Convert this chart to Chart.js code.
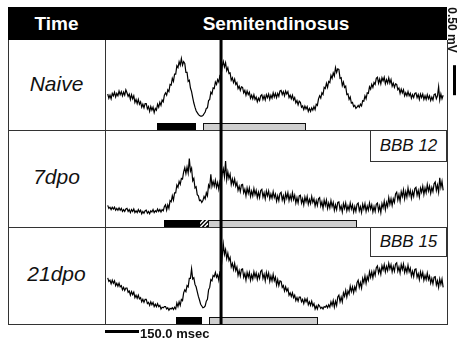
<!DOCTYPE html>
<html><head><meta charset="utf-8">
<script src="https://cdn.jsdelivr.net/npm/chart.js@4"></script>
<style>
body{margin:0;background:#fff;}
#wrap{position:relative;width:460px;height:342px;overflow:hidden;background:#fff;font-family:"Liberation Sans",Arial,sans-serif;}
.abs{position:absolute;}
.hl{position:absolute;height:1px;background:#333;}
.vl{position:absolute;width:1px;background:#333;}
canvas{position:absolute;}
.hd{position:absolute;top:7px;height:33px;line-height:33px;text-align:center;color:#fff;font-weight:bold;font-size:19px;}
.lab{position:absolute;left:8px;width:97px;text-align:center;font-style:italic;font-size:21px;color:#111;}
.bbb{position:absolute;left:370px;width:77px;box-sizing:border-box;border:1px solid #333;background:#fff;text-align:center;font-style:italic;font-size:17px;color:#111;}
</style></head>
<body>
<div id="wrap">
  <div class="abs" style="left:8px;top:7px;width:439px;height:33px;background:#000"></div>
  <div class="hd" style="left:8px;width:97px">Time</div>
  <div class="hd" style="left:105px;width:342px">Semitendinosus</div>

  <div class="hl" style="left:8px;top:130px;width:440px"></div>
  <div class="hl" style="left:8px;top:227px;width:440px"></div>
  <div class="hl" style="left:8px;top:324px;width:440px"></div>
  <div class="vl" style="left:8px;top:40px;height:285px"></div>
  <div class="vl" style="left:105px;top:40px;height:285px"></div>
  <div class="vl" style="left:447px;top:40px;height:285px"></div>

  <div class="lab" style="top:40px;height:88px;line-height:88px">Naive</div>
  <div class="lab" style="top:130px;height:93px;line-height:93px">7dpo</div>
  <div class="lab" style="top:227px;height:93px;line-height:93px">21dpo</div>

  <canvas id="c0" width="355" height="90" style="left:105px;top:40px"></canvas>
  <canvas id="c1" width="355" height="97" style="left:105px;top:130px"></canvas>
  <canvas id="c2" width="355" height="115" style="left:105px;top:227px"></canvas>

  <div class="bbb" style="top:130px;height:32px;line-height:30px">BBB 12</div>
  <div class="bbb" style="top:227px;height:30px;line-height:28px">BBB 15</div>

  <div class="abs" style="left:140px;top:327px;font-weight:bold;font-size:13px;line-height:13px;color:#111">150.0 msec</div>
  <div class="abs" style="left:425px;top:23px;width:54px;height:14px;line-height:14px;text-align:center;font-weight:bold;font-size:12px;color:#111;transform:rotate(90deg)">0.50 mV</div>
</div>
<script>
// Sampled EMG traces, in units of 0.01 mV; one sample every 5 ms from -500 ms (0 ms = vertical marker)
const sampleStart = -500;
const sampleStep = 5;
const rowLabels = ['Naive', '7dpo', '21dpo'];
const naive = [
60,53,58,52,61,57,63,55,61,57, 65,59,64,57,63,58,67,62,56,60,
51,59,52,57,46,51,44,51,43,47, 38,43,37,44,44,35,39,31,39,33,
38,29,36,33,43,38,46,41,50,47, 58,62,58,67,64,76,75,86,81,93,
93,107,104,114,108,119,108,114,111,96, 96,81,83,70,64,54,45,38,32,29,
26,24,23,23,24,27,30,36,37,49, 51,63,60,70,69,80,76,84,80,91,
91,106,114,105,112,99,104,94,95,83, 87,79,85,76,79,69,73,66,72,71,
62,66,58,65,59,63,53,58,52,59, 51,55,47,53,49,57,59,51,57,50,
59,54,60,51,58,53,62,55,61,54, 61,56,65,66,59,64,57,65,60,64,
54,58,52,58,50,54,45,49,42,48, 46,38,40,34,40,35,39,31,36,31,
37,33,39,34,43,41,52,57,53,62, 59,71,69,78,71,81,79,91,86,95,
90,104,96,102,101,86,87,74,80,71, 73,59,60,51,55,45,46,39,41,36,
38,41,38,43,40,49,48,57,52,62, 61,72,68,76,71,79,76,86,88,78,
85,77,87,82,88,77,84,78,87,78, 84,73,78,71,77,76,67,70,61,68,
62,67,57,62,57,64,57,61,53,59, 54,61,62,54,59,51,60,54,60,51,
57,51,59,52,57,49,55,50,59,60, 52,57,72,50,60,52,58];
const dpo7 = [
36,31,33,29,33,30,33,28,31,28, 32,28,31,26,29,26,30,31,26,29,
24,29,26,30,24,27,24,29,25,28, 22,26,23,27,28,23,26,22,27,25,
29,24,27,25,30,26,29,25,29,27, 34,37,28,37,31,44,42,52,45,57,
57,70,66,76,71,81,80,92,99,89, 100,90,114,93,98,77,81,65,67,54,
52,44,45,41,44,51,47,57,52,70, 66,88,68,76,68,78,66,74,63,76,
72,89,97,84,110,79,92,81,88,71, 80,71,80,68,74,61,68,59,70,71,
57,63,52,65,56,65,51,60,52,64, 54,61,49,58,49,61,63,50,57,47,
60,52,60,47,55,48,59,49,55,43, 52,44,56,58,45,52,42,56,48,57,
44,53,45,57,46,53,40,49,40,52, 53,40,47,37,50,42,51,38,46,39,
51,41,47,35,44,36,47,49,35,42, 31,45,36,45,31,40,32,44,34,41,
28,37,29,41,42,29,35,25,39,31, 40,27,35,28,40,30,37,25,34,26,
38,40,27,34,24,38,30,39,26,35, 28,40,30,37,25,34,26,38,40,27,
35,24,39,32,43,29,41,34,49,38, 47,36,47,41,55,58,45,54,43,59,
51,62,47,59,50,65,53,61,48,59, 51,64,66,53,61,50,65,58,68,54,
65,57,71,60,68,56,66,59,72,75, 61,70,58,82,66,76,61];
const dpo21 = [
77,71,73,67,73,68,72,64,68,63, 68,62,64,57,61,56,60,60,53,55,
48,54,49,53,44,48,43,48,42,44, 37,41,36,41,41,34,36,31,37,32,
36,29,33,29,34,29,31,25,28,27, 29,29,25,27,23,26,25,27,24,28,
25,35,29,37,31,41,39,52,57,54, 64,62,76,76,92,75,77,66,62,54,
46,40,33,30,27,28,30,38,41,57, 61,74,72,81,79,86,78,82,73,87,
89,113,133,116,124,109,118,106,111,95, 101,91,101,89,95,81,89,80,91,92,
78,84,73,86,78,86,73,82,75,87, 78,85,74,83,76,88,90,76,83,72,
86,77,85,71,80,72,83,72,78,65, 74,64,72,71,61,64,55,62,55,59,
48,52,46,52,44,48,39,44,38,45, 45,37,41,34,42,37,42,32,37,31,
38,30,34,25,30,25,32,30,26,28, 25,29,28,31,27,32,28,37,31,39,
28,38,31,45,48,37,45,37,52,46, 56,45,55,50,63,54,62,52,62,56,
69,73,61,69,60,76,69,80,68,79, 73,87,78,87,77,88,81,94,97,85,
92,83,97,90,99,87,96,89,101,92, 99,87,96,88,100,102,88,95,85,99,
91,100,86,94,86,98,87,93,80,88, 79,91,92,78,84,74,87,78,86,73,
81,74,85,74,80,68,76,67,78,79, 65,72,61,75,66,75,61];
// Phase bars (ms): black = stance, hatched = transition, gray = swing
const stanceBars = [[-282,-110],[-251,-93],[-199,-84]];
const hatchBars  = [null,[-93,-57],null];
const swingBars  = [[-79,375],[-57,600],[-53,428]];
const timeScaleMs = 150;   // horizontal calibration (ms)
const voltScale = 50;      // vertical calibration, 0.50 mV in 0.01 mV units
const xRange = [-512, 997];
const yMax = [150, 161.7, 161.7];

const traces = [naive, dpo7, dpo21];

const deco = {
  id: 'deco',
  afterDatasetsDraw(chart) {
    const i = chart.options.plugins.deco.row;
    const {ctx, chartArea: a, scales: {x, y}} = chart;
    ctx.save();
    const bh = 7, top = a.bottom - bh;
    const g = swingBars[i];
    const gx0 = Math.round(x.getPixelForValue(g[0])), gx1 = Math.round(x.getPixelForValue(g[1]));
    ctx.fillStyle = '#cfcfcf';
    ctx.fillRect(gx0, top, gx1 - gx0, bh);
    ctx.strokeStyle = '#111'; ctx.lineWidth = 1;
    ctx.strokeRect(gx0 + 0.5, top + 0.5, gx1 - gx0 - 1, bh);
    const s = stanceBars[i];
    const sx0 = Math.round(x.getPixelForValue(s[0])), sx1 = Math.round(x.getPixelForValue(s[1]));
    ctx.fillStyle = '#000';
    ctx.fillRect(sx0, top, sx1 - sx0, bh);
    const h = hatchBars[i];
    if (h) {
      const hx0 = Math.round(x.getPixelForValue(h[0])), hx1 = Math.round(x.getPixelForValue(h[1]));
      ctx.fillStyle = '#000';
      ctx.fillRect(hx0, top, hx1 - hx0, bh);
      ctx.save();
      ctx.beginPath(); ctx.rect(hx0, top, hx1 - hx0, bh); ctx.clip();
      ctx.strokeStyle = '#fff'; ctx.lineWidth = 1.5;
      for (let k = -1; k <= 1; k++) {
        const cx = (hx0 + hx1) / 2 + k * 4;
        ctx.beginPath(); ctx.moveTo(cx - 3.5, top + bh); ctx.lineTo(cx + 3.5, top); ctx.stroke();
      }
      ctx.restore();
    }
    const zx = x.getPixelForValue(0);
    ctx.fillStyle = '#000';
    ctx.fillRect(zx - 1.5, a.top, 3, a.bottom - a.top);
    if (i === 0) {
      const y0 = y.getPixelForValue(58), y1 = y.getPixelForValue(58 + voltScale);
      ctx.fillRect(a.right + 6, y1, 3, y0 - y1);
    }
    if (i === 2) {
      const bx0 = x.getPixelForValue(xRange[0]), bx1 = x.getPixelForValue(xRange[0] + timeScaleMs);
      ctx.fillRect(bx0, a.bottom + 6, bx1 - bx0, 3);
    }
    ctx.restore();
  }
};

traces.forEach((arr, i) => {
  const pts = arr.map((v, k) => ({x: sampleStart + k * sampleStep, y: v}));
  new Chart(document.getElementById('c' + i), {
    type: 'line',
    data: {datasets: [{label: rowLabels[i], data: pts, borderColor: '#000', borderWidth: 1.2,
      pointRadius: 0, tension: 0, fill: false}]},
    options: {
      responsive: false, animation: false, events: [],
      layout: {padding: {left: 0, top: 0, right: 13, bottom: i === 2 ? 18 : 0}},
      plugins: {legend: {display: false}, tooltip: {enabled: false}, deco: {row: i}},
      scales: {
        x: {type: 'linear', min: xRange[0], max: xRange[1], display: false},
        y: {type: 'linear', min: 0, max: yMax[i], display: false}
      }
    },
    plugins: [deco]
  });
});
</script>
</body></html>
